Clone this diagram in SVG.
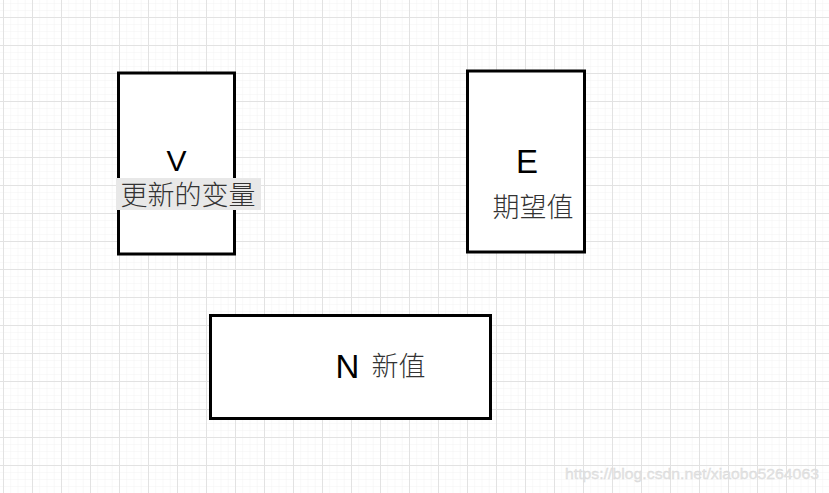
<svg xmlns="http://www.w3.org/2000/svg" width="829" height="493" viewBox="0 0 829 493">
<defs>
<pattern id="minor" x="3" y="17" width="7.25" height="7" patternUnits="userSpaceOnUse">
<path d="M0 0V7M0 0H7.25" fill="none" stroke="#f3f3f3" stroke-width="1"/>
</pattern>
<pattern id="major" x="3" y="17" width="29" height="28" patternUnits="userSpaceOnUse">
<path d="M0.5 0V28M0 0.5H29" fill="none" stroke="#e2e2e2" stroke-width="1"/>
</pattern>
</defs>
<style>
.box{fill:#fff;stroke:#000;stroke-width:3}
.lat{font-family:"Liberation Sans",Arial,sans-serif;fill:#000}
.cjk{font-family:"Noto Sans CJK SC","Liberation Sans",sans-serif;fill:#333;font-size:27px;font-weight:300}
.wm{font-family:"Liberation Sans",Arial,sans-serif;font-size:15.5px;fill:#e4e4e4;stroke:#d6d6d6;stroke-width:0.3}
</style>
<rect width="829" height="493" fill="#fff"/>
<rect width="829" height="493" fill="url(#minor)"/>
<rect width="829" height="493" fill="url(#major)"/>
<g id="connectors"></g>
<g id="V">
<rect class="box" x="118.5" y="73" width="116" height="181"/>
<text class="lat" x="176.5" y="171" font-size="30" text-anchor="middle">V</text>
<rect x="116" y="178" width="145" height="32" fill="#e8e8e8"/>
<text class="cjk" x="188" y="205" text-anchor="middle">更新的变量</text>
</g>
<g id="E">
<rect class="box" x="467.5" y="71" width="117" height="181"/>
<text class="lat" x="527" y="173" font-size="33" text-anchor="middle">E</text>
<text class="cjk" x="533" y="217" text-anchor="middle">期望值</text>
</g>
<g id="N">
<rect class="box" x="210.5" y="315.5" width="280" height="103"/>
<text class="lat" x="347.5" y="378" font-size="33" text-anchor="middle">N</text>
<text class="cjk" x="398.5" y="376" text-anchor="middle">新值</text>
</g>
<text class="wm" x="565" y="479" textLength="254" lengthAdjust="spacingAndGlyphs">https://blog.csdn.net/xiaobo5264063</text>
</svg>
